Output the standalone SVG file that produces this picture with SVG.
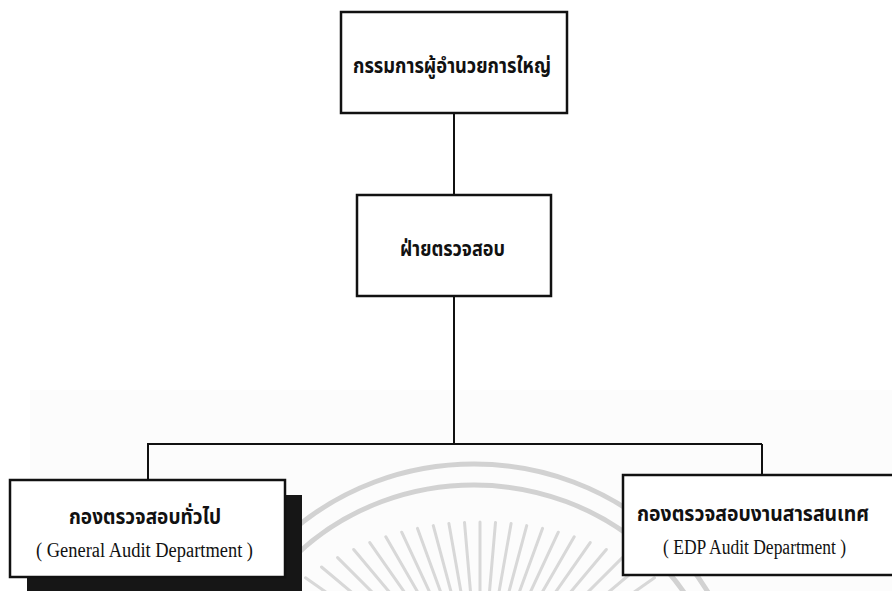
<svg xmlns="http://www.w3.org/2000/svg" width="892" height="591" viewBox="0 0 892 591">
<style>
.box{fill:#fff;stroke:#111;stroke-width:2.5}
.conn{stroke:#111;stroke-width:2;fill:none}
.th{font-family:"Noto Sans Thai","Noto Sans","DejaVu Sans",sans-serif;font-weight:bold;font-size:21px;fill:#111;text-anchor:middle}
.en{font-family:"Liberation Serif","Times New Roman",serif;font-size:20px;fill:#111;text-anchor:middle}
.wm{fill:none;stroke:#d2d2d2;stroke-width:5}
.ray line{stroke:#d8d8d8;stroke-width:3;stroke-linecap:round}
</style>
<rect width="892" height="591" fill="#fff"/>
<rect x="30" y="390" width="862" height="201" fill="#fcfcfc"/>
<g id="watermark">
<ellipse class="wm" cx="474" cy="720" rx="270" ry="256"/>
<ellipse class="wm" cx="474" cy="720" rx="250" ry="235"/>
<g class="ray">
<line x1="480" y1="602" x2="480" y2="522"/>
<line x1="488.6" y1="602" x2="495.5" y2="522.4"/>
<line x1="497.2" y1="602.3" x2="511.1" y2="523.5"/>
<line x1="506" y1="602.8" x2="526.7" y2="525.6"/>
<line x1="515.1" y1="603.6" x2="542.5" y2="528.4"/>
<line x1="524.5" y1="604.7" x2="558.3" y2="532.2"/>
<line x1="534.2" y1="606.1" x2="574.2" y2="536.8"/>
<line x1="544.4" y1="608.1" x2="590.2" y2="542.6"/>
<line x1="554.9" y1="610.8" x2="606.3" y2="549.5"/>
<line x1="565.8" y1="614.2" x2="622.4" y2="557.6"/>
<line x1="577.2" y1="618.4" x2="638.5" y2="567"/>
<line x1="589" y1="623.7" x2="654.5" y2="577.8"/>
<line x1="471.4" y1="602" x2="464.5" y2="522.4"/>
<line x1="462.8" y1="602.3" x2="448.9" y2="523.5"/>
<line x1="454" y1="602.8" x2="433.3" y2="525.6"/>
<line x1="444.9" y1="603.6" x2="417.5" y2="528.4"/>
<line x1="435.5" y1="604.7" x2="401.7" y2="532.2"/>
<line x1="425.8" y1="606.1" x2="385.8" y2="536.8"/>
<line x1="415.6" y1="608.1" x2="369.8" y2="542.6"/>
<line x1="405.1" y1="610.8" x2="353.7" y2="549.5"/>
<line x1="394.2" y1="614.2" x2="337.6" y2="557.6"/>
<line x1="382.8" y1="618.4" x2="321.5" y2="567"/>
<line x1="371" y1="623.7" x2="305.5" y2="577.8"/>
</g>
</g>
<g id="connectors">
<line class="conn" x1="454" y1="113" x2="454" y2="195"/>
<line class="conn" x1="454" y1="296" x2="454" y2="444"/>
<line class="conn" x1="147" y1="444" x2="762" y2="444"/>
<line class="conn" x1="148" y1="444" x2="148" y2="480"/>
<line class="conn" x1="762" y1="444" x2="762" y2="475"/>
</g>
<g id="n-director">
<rect class="box" x="341" y="12" width="226" height="101"/>
<text class="th" x="452" y="73" textLength="198" lengthAdjust="spacingAndGlyphs">กรรมการผู้อำนวยการใหญ่</text>
</g>
<g id="n-audit">
<rect class="box" x="357" y="195" width="194" height="101"/>
<text class="th" x="452.5" y="256" textLength="105" lengthAdjust="spacingAndGlyphs">ฝ่ายตรวจสอบ</text>
</g>
<g id="n-general">
<rect x="27" y="495" width="275" height="100" fill="#161616"/>
<rect class="box" x="10" y="480" width="275" height="97"/>
<text class="th" x="145" y="524" textLength="152" lengthAdjust="spacingAndGlyphs">กองตรวจสอบทั่วไป</text>
<text class="en" x="144.5" y="557" textLength="217" lengthAdjust="spacingAndGlyphs">( General Audit Department )</text>
</g>
<g id="n-edp">
<rect class="box" x="623" y="475" width="280" height="100"/>
<text class="th" x="753" y="521" textLength="232" lengthAdjust="spacingAndGlyphs">กองตรวจสอบงานสารสนเทศ</text>
<text class="en" x="754.5" y="554" textLength="183" lengthAdjust="spacingAndGlyphs">( EDP Audit Department )</text>
</g>
</svg>
